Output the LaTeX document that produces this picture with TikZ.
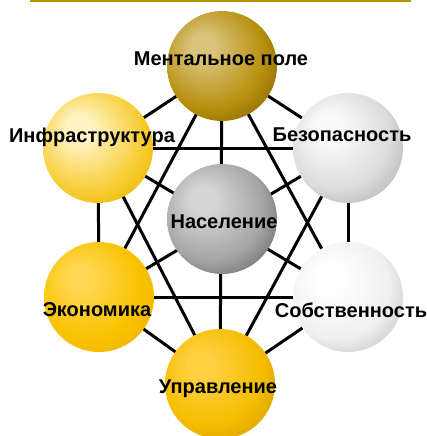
\documentclass[tikz,border=0pt]{standalone}
\usepackage{fontspec}
\setmainfont{Liberation Sans}
\usetikzlibrary{backgrounds}
\definecolor{mhi}{HTML}{D9C27A}\definecolor{mbase}{HTML}{B8900F}\definecolor{mdark}{HTML}{8C6B00}
\definecolor{ihi}{HTML}{FFF3C4}\definecolor{ibase}{HTML}{F8CF3A}\definecolor{idark}{HTML}{EDB800}
\definecolor{ehi}{HTML}{FFD750}\definecolor{ebase}{HTML}{F9C200}\definecolor{edark}{HTML}{EFB500}
\definecolor{uhi}{HTML}{FFD040}\definecolor{ubase}{HTML}{F5BD00}\definecolor{udark}{HTML}{D9A200}
\definecolor{bhi}{HTML}{FAFAFA}\definecolor{bbase}{HTML}{DCDCDC}\definecolor{bdark}{HTML}{B5B5B5}
\definecolor{shi}{HTML}{FFFFFF}\definecolor{sbase}{HTML}{F0F0F0}\definecolor{sdark}{HTML}{C8C8C8}
\definecolor{chi}{HTML}{D5D5D5}\definecolor{cbase}{HTML}{A5A5A5}\definecolor{cdark}{HTML}{6E6E6E}
\definecolor{rulegold}{HTML}{B8900A}
\newcommand\mkball[4]{\pgfdeclareradialshading{#1}{\pgfpoint{-10bp}{10bp}}{color(0bp)=(#2); color(6bp)=(#2); color(24bp)=(#3); color(34bp)=(#4); color(50bp)=(#4)}}
\mkball{mball}{mhi}{mbase}{mdark}
\mkball{iball}{ihi}{ibase}{idark}
\mkball{eball}{ehi}{ebase}{edark}
\mkball{uball}{uhi}{ubase}{udark}
\mkball{bball}{bhi}{bbase}{bdark}
\mkball{sball}{shi}{sbase}{sdark}
\mkball{cball}{chi}{cbase}{cdark}
\tikzset{
  sphere/.style={circle, minimum size=110pt, inner sep=0pt, draw=none, shading=#1},
  lbl/.style={font=\bfseries\fontsize{20}{24}\selectfont, inner sep=0pt, text=black},
  link/.style={line width=3pt, black}
}
\begin{document}
\begin{tikzpicture}[x=1pt,y=-1pt]
\useasboundingbox (0,0) rectangle (427,436);
\coordinate (r1) at (30,1);
\coordinate (r2) at (411,1);
\draw[rulegold, line width=2pt] (r1) -- (r2);
\node[sphere=mball] (m) at (222,66) {};
\node[sphere=iball] (i) at (98,148) {};
\node[sphere=bball] (b) at (348,148) {};
\node[sphere=cball] (c) at (222,219) {};
\node[sphere=eball] (e) at (99,297) {};
\node[sphere=sball] (s) at (348,297) {};
\node[sphere=uball] (u) at (220,384) {};
\begin{pgfonlayer}{background}
\foreach \a/\b in {m/i,m/b,i/e,b/s,e/u,s/u,m/e,m/s,e/s,u/i,u/b,i/b,m/u,i/s,b/e}
  \draw[link] (\a.center) -- (\b.center);
\end{pgfonlayer}
\node[lbl] (mL) at (221,59) {Ментальное поле};
\node[lbl] (iL) at (92,137) {Инфраструктура};
\node[lbl] (bL) at (342,135) {Безопасность};
\node[lbl] (cL) at (224,222) {Население};
\node[lbl] (eL) at (97,310) {Экономика};
\node[lbl] (sL) at (351,310) {Собственность};
\node[lbl] (uL) at (218,389) {Управление};
\end{tikzpicture}
\end{document}
